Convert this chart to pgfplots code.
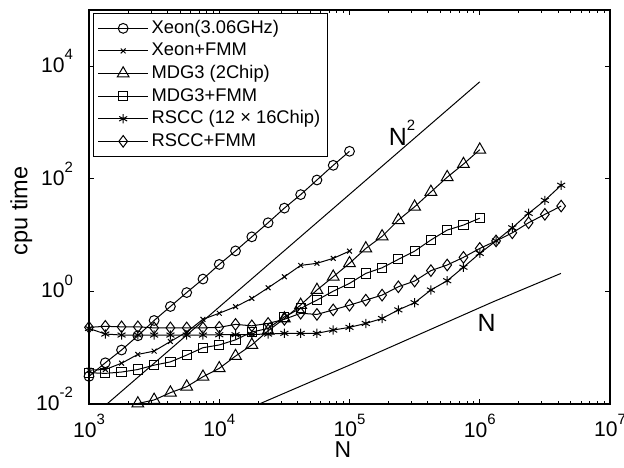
\documentclass[border=0pt]{standalone}
\usepackage{pgfplots}
\pgfplotsset{compat=1.18}
\usepackage{fontspec}
\setmainfont{Liberation Sans}
\newcommand{\myexp}[1]{\raisebox{0.6em}{\fontsize{7.5}{7.5}\selectfont #1}}
\begin{document}
\begin{tikzpicture}
\useasboundingbox (0,0) rectangle (312bp,234bp);
\begin{axis}[
  at={(44.5bp,32bp)}, anchor=south west,
  scale only axis, width=260.5bp, height=197bp,
  xmode=log, ymode=log,
  xmin=1e3, xmax=1e7, ymin=1e-2, ymax=1e5,
  xtick={1e3,1e4,1e5,1e6,1e7},
  xticklabels={10\myexp{3},10\myexp{4},10\myexp{5},10\myexp{6},10\myexp{7}},
  ytick={1e-2,1,1e2,1e4},
  yticklabels={10\myexp{-2},10\myexp{0},10\myexp{2},10\myexp{4}},
  yminorticks=false,
  tick align=inside,
  major tick length=2.5bp, minor tick length=1.6bp,
  tick style={line width=0.5bp, black},
  axis line style={line width=0.8bp},
  tick label style={font=\fontsize{10.6}{12}\selectfont},
  xticklabel style={yshift=-1.5bp},
  yticklabel style={xshift=-4.5bp, yshift=2.5bp},
  xlabel={N}, ylabel={cpu time},
  every axis x label/.style={at={(axis description cs:0.4875,-0.117)}, anchor=center, font=\fontsize{11.5}{13}\selectfont},
  every axis y label/.style={at={(axis description cs:-0.13,0.49)}, rotate=90, anchor=center, font=\fontsize{11.8}{13}\selectfont},
  legend style={at={(0.008,0.992)}, anchor=north west, draw=black, line width=0.5bp,
    font=\fontsize{9.2}{10}\selectfont, inner xsep=2bp, inner ysep=1.7bp,
    nodes={inner ysep=1.2bp, inner xsep=1.5bp, text height=6.9bp, text depth=2bp}},
  legend cell align=left,
  legend image code/.code={\draw[mark repeat=2,mark phase=2,#1] plot coordinates {(0bp,0bp) (12.5bp,0bp) (25bp,0bp)};},
  every axis plot/.append style={line width=0.5bp, black, mark options={solid, line width=0.5bp, black}},
]
% Xeon (3.06GHz)
\addplot[mark=o, mark size=2.45bp] coordinates {
(1000,0.031) (1334,0.054) (1778,0.091) (2371,0.163) (3162,0.305) (4217,0.54)
(5623,0.955) (7499,1.66) (10000,3.02) (13335,5.25) (17783,9.33) (23714,16.6)
(31623,30.2) (42170,52.5) (56234,95.5) (74989,174) (100000,309)};
\addlegendentry{Xeon(3.06GHz)}
% Xeon+FMM
\addplot[mark=x, mark size=1.7bp] coordinates {
(1000,0.040) (1334,0.041) (1778,0.053) (2371,0.076) (3162,0.087) (4217,0.129)
(5623,0.19) (7499,0.32) (10000,0.41) (13335,0.535) (17783,0.75) (23714,1.16)
(31623,1.82) (42170,2.9) (56234,3.16) (74989,3.87) (100000,5.2)};
\addlegendentry{Xeon+FMM}
% MDG3 (2Chip)
\addplot[mark=triangle, mark size=3.4bp] coordinates {
(2371,0.0102) (3162,0.0118) (4217,0.0159) (5623,0.0203) (7499,0.0305)
(10000,0.043) (13335,0.071) (17783,0.112) (23714,0.2) (31623,0.33) (42170,0.575)
(56234,1.06) (74989,1.82) (100000,3.16) (133352,5.8) (177828,9.5) (237137,18.5)
(316228,31.9) (421697,58.5) (562341,107) (749894,183) (1000000,330)};
\addlegendentry{MDG3 (2Chip)}
% MDG3+FMM
\addplot[mark=square, mark size=2.3bp] coordinates {
(1000,0.036) (1334,0.035) (1778,0.037) (2371,0.041) (3162,0.049) (4217,0.056)
(5623,0.074) (7499,0.100) (10000,0.112) (13335,0.138) (17783,0.19) (23714,0.22)
(31623,0.355) (42170,0.50) (56234,0.70) (74989,1.01) (100000,1.39) (133352,2.09)
(177828,2.63) (237137,3.71) (316228,5.2) (421697,8.2) (562341,12.3) (749894,15.1)
(1000000,20)};
\addlegendentry{MDG3+FMM}
% RSCC (12x16Chip)
\addplot[mark=asterisk, mark size=2.3bp] coordinates {
(1000,0.22) (1334,0.175) (1778,0.168) (2371,0.168) (3162,0.168) (4217,0.168)
(5623,0.168) (7499,0.168) (10000,0.17) (13335,0.17) (17783,0.172) (23714,0.175)
(31623,0.18) (42170,0.18) (56234,0.18) (74989,0.206) (100000,0.23) (133352,0.27)
(177828,0.33) (237137,0.47) (316228,0.63) (421697,1.06) (562341,1.55) (749894,2.69)
(1000000,4.75) (1333521,7.9) (1778279,13.5) (2371374,24.4) (3162278,41.5) (4216965,77)};
\addlegendentry{RSCC (12 × 16Chip)}
% RSCC+FMM
\addplot[mark=diamond, mark size=2.9bp] coordinates {
(1000,0.23) (1334,0.24) (1778,0.235) (2371,0.235) (3162,0.225) (4217,0.225)
(5623,0.225) (7499,0.225) (10000,0.23) (13335,0.26) (17783,0.245) (23714,0.27)
(31623,0.32) (42170,0.41) (56234,0.39) (74989,0.47) (100000,0.57) (133352,0.70)
(177828,0.86) (237137,1.21) (316228,1.53) (421697,2.34) (562341,2.95) (749894,4.03)
(1000000,5.8) (1333521,7.9) (1778279,11) (2371374,16.6) (3162278,23.4) (4216965,32.9)};
\addlegendentry{RSCC+FMM}
% N^2 reference line
\addplot[no marks, forget plot] coordinates {(1000,0.0053) (1000000,5300)};
% N reference line
\addplot[no marks, forget plot] coordinates {(1000,0.0005) (100000,0.049) (1270000,0.656) (4200000,2.09)};
\node[font=\fontsize{12.5}{14}\selectfont] at (axis cs:2.53e5,650) {N\myexp{2}};
\node[font=\fontsize{12.5}{14}\selectfont] at (axis cs:1.13e6,0.271) {N};
\end{axis}
\end{tikzpicture}
\end{document}
